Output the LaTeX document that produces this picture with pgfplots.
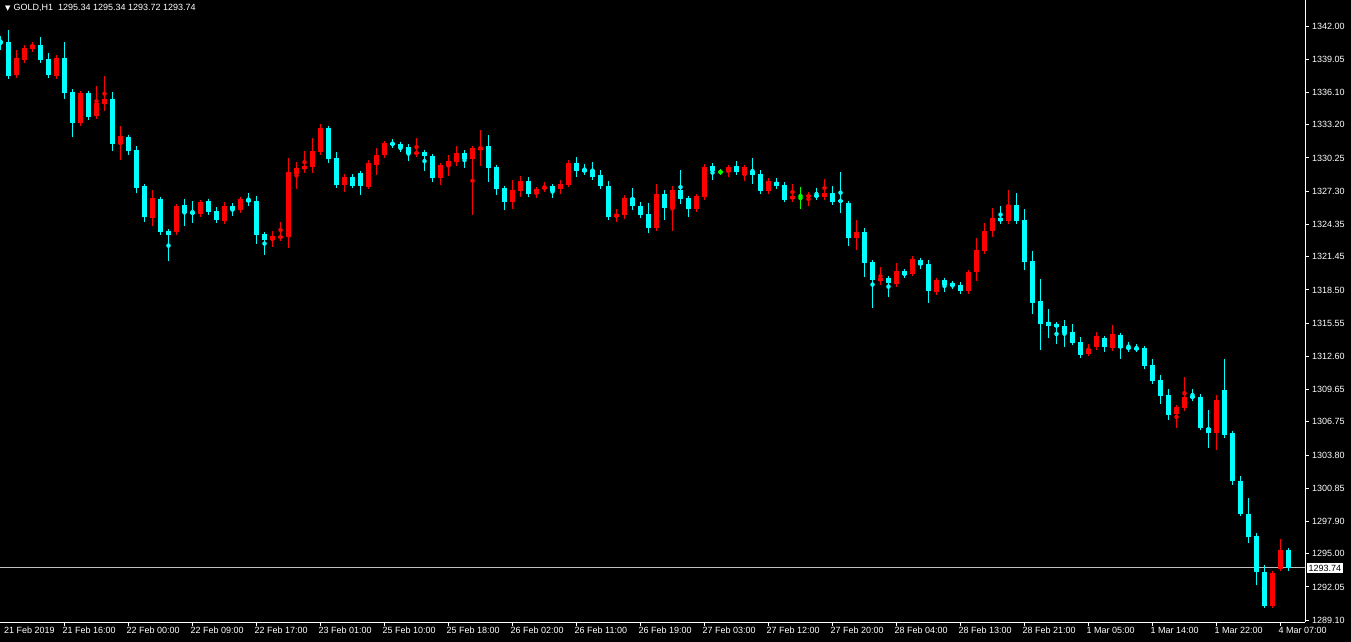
\documentclass[border=0pt]{standalone}
\usepackage{fontspec}
\setmainfont{Liberation Sans}
\newfontfamily\symfont{DejaVu Sans}
\usepackage{pgfplots}
\pgfplotsset{compat=1.18}
\usepackage{pgfplotstable}

\definecolor{bear}{RGB}{0,255,255}
\definecolor{bull}{RGB}{255,0,0}
\definecolor{doji}{RGB}{0,255,0}
\definecolor{pricegray}{RGB}{192,192,192}

% GOLD H1 bars, index 0 = 21 Feb 09:00 ; columns open high low close
\pgfplotstableread{
i o h l c
-1 1340.67 1341.11 1339.87 1340.58
0 1340.58 1341.65 1337.55 1337.55
4 1340.31 1341.03 1338.80 1338.98
5 1339.07 1339.60 1337.55 1337.64
7 1339.16 1340.58 1335.50 1336.04
8 1336.13 1336.13 1332.12 1333.37
10 1336.04 1336.04 1333.72 1333.90
13 1335.50 1336.13 1330.87 1331.50
15 1332.12 1332.30 1330.52 1330.87
16 1330.96 1331.32 1327.13 1327.58
17 1327.76 1327.76 1324.55 1325.00
19 1326.60 1326.78 1323.66 1323.66
20 1323.75 1323.84 1321.08 1323.39
22 1326.07 1326.60 1324.20 1325.35
23 1325.44 1326.42 1324.46 1325.26
25 1326.42 1326.51 1325.35 1325.44
26 1325.53 1325.89 1324.64 1324.73
28 1325.98 1326.24 1325.09 1325.62
30 1326.60 1327.13 1325.98 1326.33
31 1326.42 1326.87 1322.59 1323.39
32 1323.48 1323.66 1321.61 1322.95
40 1332.92 1333.01 1329.81 1330.16
41 1330.25 1330.78 1327.76 1327.85
43 1328.56 1328.74 1327.67 1327.76
44 1328.91 1329.09 1326.96 1327.76
48 1331.59 1331.94 1331.14 1331.41
49 1331.50 1331.50 1330.78 1331.14
50 1331.23 1331.32 1329.98 1330.61
52 1330.78 1330.87 1329.09 1330.43
53 1330.43 1330.52 1328.11 1328.47
57 1330.70 1330.78 1329.36 1330.16
60 1331.32 1332.30 1328.11 1329.36
61 1329.45 1329.54 1326.96 1327.49
62 1327.58 1327.67 1325.62 1326.33
65 1328.20 1328.56 1327.04 1327.04
68 1327.76 1327.85 1326.69 1327.31
71 1329.81 1330.34 1328.56 1329.09
72 1329.27 1329.72 1328.74 1329.00
73 1329.18 1329.89 1328.38 1328.56
74 1328.74 1329.18 1327.49 1327.76
75 1327.76 1328.20 1324.73 1325.00
78 1326.69 1327.58 1325.62 1325.98
79 1325.98 1326.33 1324.91 1325.17
80 1325.26 1326.24 1323.57 1324.02
82 1327.04 1327.40 1324.73 1325.80
84 1327.40 1329.18 1326.15 1326.60
85 1326.69 1326.78 1325.00 1325.71
88 1329.54 1329.63 1328.29 1329.09
91 1329.54 1329.98 1328.74 1329.00
93 1329.09 1330.25 1327.94 1328.74
94 1328.83 1329.18 1327.13 1327.31
96 1328.11 1328.47 1327.49 1327.76
97 1327.85 1327.94 1326.51 1326.51
101 1326.96 1327.58 1326.51 1326.78
103 1327.13 1327.76 1326.07 1326.33
104 1326.51 1329.00 1325.35 1326.33
105 1326.24 1326.33 1322.41 1323.13
107 1323.66 1324.02 1319.65 1320.90
108 1320.99 1321.08 1316.89 1319.39
110 1319.56 1319.74 1317.87 1319.12
112 1320.19 1320.28 1319.56 1319.83
114 1321.17 1321.35 1320.37 1320.72
115 1320.81 1321.17 1317.34 1318.41
117 1319.39 1319.39 1318.32 1318.94
118 1319.12 1319.21 1318.58 1318.85
119 1318.94 1319.21 1318.32 1318.41
124 1324.91 1325.98 1324.46 1324.64
126 1326.07 1327.13 1324.37 1324.64
127 1324.73 1325.71 1320.28 1320.99
128 1321.08 1321.97 1316.36 1317.34
129 1317.52 1319.48 1313.15 1315.47
130 1315.65 1316.80 1314.22 1315.29
131 1315.47 1315.47 1313.69 1315.20
132 1315.29 1315.82 1313.42 1314.67
133 1314.76 1315.47 1313.69 1313.78
134 1313.87 1314.31 1312.62 1312.71
137 1314.22 1314.22 1312.97 1313.42
139 1314.49 1314.58 1312.35 1313.33
140 1313.42 1313.87 1313.06 1313.24
141 1313.33 1313.69 1312.97 1313.24
142 1313.33 1313.42 1311.46 1311.73
143 1311.82 1312.35 1310.21 1310.39
144 1310.48 1310.93 1308.34 1309.06
145 1309.15 1309.68 1306.92 1307.36
148 1309.06 1309.68 1308.61 1308.88
149 1308.97 1309.23 1306.12 1306.21
150 1306.21 1307.81 1304.43 1305.76
152 1309.59 1312.35 1305.32 1305.58
153 1305.76 1305.94 1301.13 1301.49
154 1301.49 1301.93 1298.37 1298.55
155 1298.55 1299.97 1295.97 1296.50
156 1296.59 1296.86 1292.23 1293.38
157 1293.38 1294.01 1290.27 1290.36
160 1295.34 1295.34 1293.72 1293.74
}\bearbars

\pgfplotstableread{
i o h l c
1 1337.64 1339.87 1337.55 1339.16
2 1338.98 1340.31 1338.80 1340.05
3 1339.96 1340.58 1339.87 1340.31
6 1337.55 1339.42 1337.55 1339.16
9 1333.37 1336.13 1333.19 1336.04
11 1333.99 1336.66 1333.99 1335.15
12 1335.06 1337.55 1334.44 1335.50
14 1331.50 1333.10 1330.07 1332.21
18 1324.91 1327.40 1324.20 1326.69
21 1323.66 1325.98 1323.66 1325.98
24 1325.26 1326.51 1325.17 1326.33
27 1324.64 1326.33 1324.64 1325.98
29 1325.62 1326.78 1325.35 1326.60
33 1322.95 1323.75 1322.33 1323.30
34 1323.13 1324.55 1323.13 1323.30
35 1323.21 1330.25 1322.24 1329.00
36 1328.83 1329.89 1327.49 1329.36
37 1329.27 1330.87 1328.91 1329.54
38 1329.45 1332.03 1328.91 1330.87
39 1330.78 1333.28 1330.78 1332.92
42 1327.85 1328.83 1327.22 1328.56
45 1327.67 1329.81 1327.67 1329.81
46 1329.63 1331.14 1328.74 1330.52
47 1330.52 1331.67 1330.25 1331.59
51 1330.61 1332.03 1330.43 1330.78
54 1328.47 1329.63 1327.85 1329.63
55 1329.54 1330.52 1328.65 1329.98
56 1329.89 1331.32 1329.54 1330.70
58 1330.16 1331.32 1325.17 1331.14
59 1330.96 1332.74 1329.54 1331.23
63 1326.33 1328.29 1325.71 1327.40
64 1327.31 1328.65 1326.78 1328.20
66 1327.04 1327.58 1326.69 1327.49
67 1327.49 1328.11 1327.22 1327.67
69 1327.49 1328.29 1327.04 1327.94
70 1327.85 1329.89 1327.85 1329.81
76 1325.00 1325.71 1324.55 1325.26
77 1325.17 1326.69 1324.82 1326.69
81 1324.02 1327.94 1323.93 1327.04
83 1325.80 1327.76 1323.75 1327.40
86 1325.71 1326.96 1325.62 1326.87
87 1326.78 1329.72 1326.60 1329.45
90 1329.00 1329.63 1328.56 1329.45
92 1328.74 1329.45 1328.20 1329.45
95 1327.31 1328.47 1327.13 1328.20
98 1326.60 1327.94 1326.51 1326.87
100 1326.78 1327.22 1325.98 1326.96
102 1326.78 1328.38 1326.78 1327.13
106 1323.13 1324.73 1322.06 1323.66
109 1319.30 1320.54 1318.94 1319.56
111 1319.03 1320.90 1319.03 1320.19
113 1319.92 1321.43 1319.74 1321.26
116 1318.32 1319.39 1318.23 1319.39
120 1318.41 1320.10 1318.23 1320.10
121 1320.10 1323.13 1319.30 1322.06
122 1321.97 1324.46 1321.88 1323.75
123 1323.75 1325.80 1323.21 1324.91
125 1324.64 1327.40 1324.55 1326.07
135 1312.80 1313.69 1312.71 1313.24
136 1313.42 1314.76 1313.33 1314.40
138 1313.33 1315.38 1313.15 1314.58
146 1307.45 1308.17 1306.21 1308.08
147 1307.99 1310.75 1307.90 1308.97
151 1305.76 1309.15 1304.25 1308.70
158 1290.36 1293.47 1290.36 1293.29
159 1293.65 1296.32 1293.56 1295.34
}\bullbars

\pgfplotstableread{
i o h l c
89 1329.00 1329.27 1328.74 1329.00
99 1326.87 1327.67 1325.71 1326.87
}\dojibars

\pgfplotsset{
  wick/.style={forget plot, only marks, mark=none,
    error bars/.cd, y dir=both, y explicit, error mark=none,
    error bar style={line width=1pt}},
  body/.style={forget plot, only marks, mark=none,
    error bars/.cd, y dir=both, y explicit, error mark=-,
    error mark options={mark size=2.5pt, line width=1pt},
    error bar style={line width=5pt}},
}

\newcommand\candles[2]{%
  \addplot[#2, wick] table[x=i, y expr={(\thisrow{h}+\thisrow{l})/2},
    y error expr={(\thisrow{h}-\thisrow{l})/2}] {#1};
  \addplot[#2, body] table[x=i, y expr={(\thisrow{o}+\thisrow{c})/2},
    y error expr={abs(\thisrow{o}-\thisrow{c})/2}] {#1};
}

\begin{document}
\begin{tikzpicture}
\path[use as bounding box, fill=black] (0,0) rectangle (1351pt,642pt);
\begin{axis}[
  at={(0pt,20pt)}, anchor=south west,
  scale only axis, width=1305pt, height=622pt,
  xmin=-1.0625, xmax=162.0625, ymin=1288.93, ymax=1344.32,
  axis x line*=bottom, axis y line*=right,
  axis line style={white, line width=1pt, -},
  tick style={white, line width=1pt},
  tick align=outside, major tick length=4pt,
  ytick={1342.00,1339.05,1336.10,1333.20,1330.25,1327.30,1324.35,1321.45,
    1318.50,1315.55,1312.60,1309.65,1306.75,1303.80,1300.85,1297.90,
    1295.00,1292.05,1289.10},
  yticklabels={1342.00,1339.05,1336.10,1333.20,1330.25,1327.30,1324.35,
    1321.45,1318.50,1315.55,1312.60,1309.65,1306.75,1303.80,1300.85,
    1297.90,1295.00,1292.05,1289.10},
  xtick={7,15,...,159},
  xticklabels={21 Feb 16:00,22 Feb 00:00,22 Feb 09:00,22 Feb 17:00,
    23 Feb 01:00,25 Feb 10:00,25 Feb 18:00,26 Feb 02:00,26 Feb 11:00,
    26 Feb 19:00,27 Feb 03:00,27 Feb 12:00,27 Feb 20:00,28 Feb 04:00,
    28 Feb 13:00,28 Feb 21:00,1 Mar 05:00,1 Mar 14:00,1 Mar 22:00,
    4 Mar 07:00},
  ticklabel style={text=white, font=\fontsize{9}{10}\selectfont},
  yticklabel style={anchor=west, inner sep=0pt, xshift=3pt},
  xticklabel style={anchor=north west, inner sep=0pt, xshift=-2pt, yshift=-1pt},
  clip mode=individual,
]
\addplot[pricegray, line width=1pt, forget plot] coordinates {(-2,1293.74) (163,1293.74)};
\candles{\bearbars}{bear}
\candles{\bullbars}{bull}
\candles{\dojibars}{doji}
\node[fill=white, text=black, inner sep=1.5pt, anchor=west,
  font=\fontsize{9}{10}\selectfont] at (axis cs:162.0625,1293.74) [xshift=2pt] {1293.74};
\node[anchor=north west, inner sep=0pt, text=white,
  font=\fontsize{9}{10}\selectfont] at (rel axis cs:0,1) [xshift=5pt, yshift=-4pt]
  {{\symfont\fontsize{7}{8}\selectfont ▼}\hspace{3pt}GOLD,H1\ \ 1295.34 1295.34 1293.72 1293.74};
\node[anchor=north west, inner sep=0pt, text=white,
  font=\fontsize{9}{10}\selectfont] at (rel axis cs:0,0) [xshift=4pt, yshift=-5pt]
  {21 Feb 2019};
\end{axis}
\end{tikzpicture}
\end{document}
